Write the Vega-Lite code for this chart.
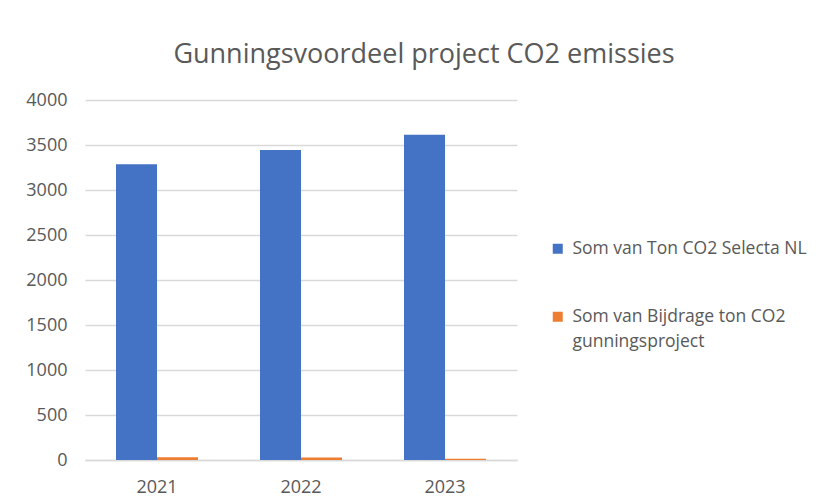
{
  "$schema": "https://vega.github.io/schema/vega-lite/v6.json",
  "autosize": "none",
  "width": 432,
  "height": 360,
  "padding": {"left": 85, "top": 100, "right": 307, "bottom": 43},
  "background": "white",
  "title": {
    "text": "Gunningsvoordeel project CO2 emissies",
    "anchor": "middle",
    "dx": 123,
    "offset": 1,
    "baseline": "alphabetic",
    "font": "Open Sans",
    "fontSize": 27,
    "fontWeight": "normal",
    "color": "#595959"
  },
  "data": {
    "values": [
      {"jaar": "2021", "reeks": "Som van Ton CO2 Selecta NL", "waarde": 3285},
      {"jaar": "2021", "reeks": "Som van Bijdrage ton CO2 gunningsproject", "waarde": 30},
      {"jaar": "2022", "reeks": "Som van Ton CO2 Selecta NL", "waarde": 3445},
      {"jaar": "2022", "reeks": "Som van Bijdrage ton CO2 gunningsproject", "waarde": 28},
      {"jaar": "2023", "reeks": "Som van Ton CO2 Selecta NL", "waarde": 3615},
      {"jaar": "2023", "reeks": "Som van Bijdrage ton CO2 gunningsproject", "waarde": 15}
    ]
  },
  "mark": {"type": "bar"},
  "encoding": {
    "x": {
      "field": "jaar",
      "type": "nominal",
      "title": null,
      "scale": {"paddingInner": 0.4306, "paddingOuter": 0.2153},
      "axis": {
        "labelAngle": 0,
        "labelFont": "Open Sans",
        "labelFontSize": 18,
        "labelColor": "#595959",
        "labelPadding": 18,
        "ticks": false,
        "domainColor": "#d9d9d9",
        "domainWidth": 1.5
      }
    },
    "xOffset": {
      "field": "reeks",
      "type": "nominal",
      "sort": ["Som van Ton CO2 Selecta NL", "Som van Bijdrage ton CO2 gunningsproject"],
      "scale": {"paddingInner": 0, "paddingOuter": 0}
    },
    "y": {
      "field": "waarde",
      "type": "quantitative",
      "title": null,
      "scale": {"domain": [0, 4000], "nice": false},
      "axis": {
        "values": [0, 500, 1000, 1500, 2000, 2500, 3000, 3500, 4000],
        "format": "d",
        "labelFont": "Open Sans",
        "labelFontSize": 18,
        "labelColor": "#595959",
        "labelPadding": 18,
        "ticks": false,
        "domain": false,
        "gridColor": "#d9d9d9",
        "gridWidth": 1.5
      }
    },
    "color": {
      "field": "reeks",
      "type": "nominal",
      "sort": ["Som van Ton CO2 Selecta NL", "Som van Bijdrage ton CO2 gunningsproject"],
      "scale": {"range": ["#4472C4", "#ED7D31"]},
      "legend": {
        "title": null,
        "orient": "none",
        "legendX": 464,
        "legendY": 140,
        "symbolType": "square",
        "symbolSize": 100,
        "symbolStrokeWidth": 0,
        "labelFont": "Open Sans",
        "labelFontSize": 17.5,
        "labelColor": "#595959",
        "labelLimit": 300,
        "rowPadding": 49,
        "labelOffset": 6,
        "labelExpr": "datum.label == 'Som van Bijdrage ton CO2 gunningsproject' ? ['Som van Bijdrage ton CO2', 'gunningsproject'] : datum.label",
        "encode": {"labels": {"update": {"lineHeight": {"value": 25}}}}
      }
    }
  },
  "config": {"view": {"stroke": null}}
}
